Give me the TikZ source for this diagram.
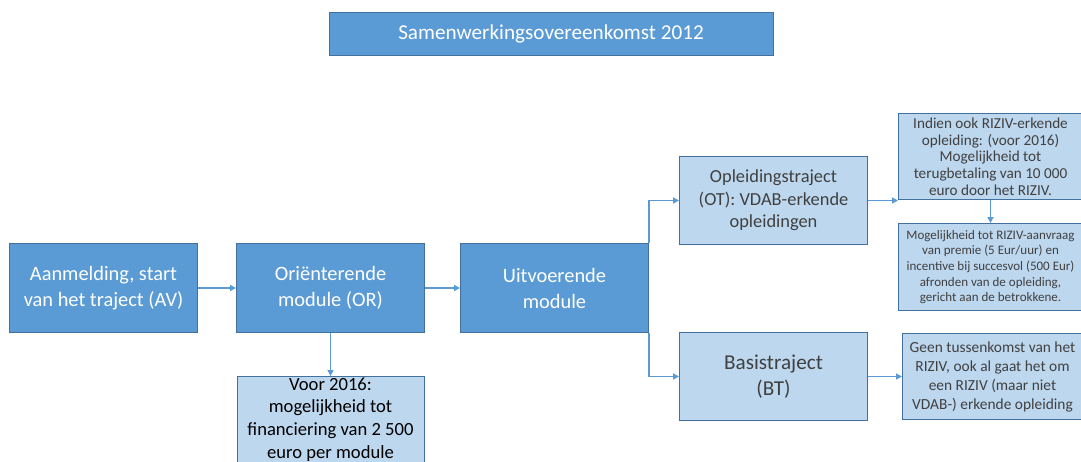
\documentclass[tikz,border=0pt]{standalone}
\usepackage{fontspec}
\setmainfont{Carlito}
\usetikzlibrary{positioning,arrows.meta}
\definecolor{darkblue}{HTML}{5B9BD5}
\definecolor{lightblue}{HTML}{BDD7EE}
\definecolor{boxline}{HTML}{41719C}
\definecolor{greytext}{HTML}{404040}

\begin{document}
\begin{tikzpicture}[x=0.5pt,y=-0.5pt,>={Triangle[length=3pt,width=3pt]},node distance=20pt,
    dark box/.style={draw=boxline,fill=darkblue,text=white,line width=0.5pt,minimum width=94pt,minimum height=44.5pt,inner sep=0pt,align=center,font=\fontsize{10.2}{13}\selectfont},
    light box/.style={draw=boxline,fill=lightblue,text=greytext,line width=0.5pt,inner sep=0pt,align=center},
    link/.style={->,draw=darkblue,line width=0.8pt}]

            \useasboundingbox (0,0) rectangle (1081,461);
            \clip (0,0) rectangle (1081,461);
            \fill[white] (0,0) rectangle (1081,461);

            \node[dark box, minimum width=222pt, minimum height=21.5pt, font=\fontsize{10.6}{13}\selectfont] (title) at (551,33.5) {Samenwerkingsovereenkomst 2012};

            \node[dark box, anchor=north west] (av) at (9,243) {Aanmelding, start\\van het traject (AV)};
            \node[dark box] (or) [right=19pt of av] {Oriënterende\\module (OR)};
            \node[dark box] (uit) [right=17.5pt of or] {Uitvoerende\\module};
            \node[light box, text=black, minimum width=93.5pt, minimum height=43pt, font=\fontsize{9.3}{11.4}\selectfont] (voor) [below=21.5pt of or] {Voor 2016:\\mogelijkheid tot\\financiering van 2 500\\euro per module};

            \node[light box, anchor=north west, minimum width=94pt, minimum height=44pt, font=\fontsize{9.2}{11.2}\selectfont] (ot) at (679,156) {Opleidingstraject\\(OT): VDAB-erkende\\opleidingen};
            \node[light box, anchor=north west, minimum width=94pt, minimum height=44pt, font=\fontsize{10.6}{13}\selectfont] (bt) at (679,332) {Basistraject\\(BT)};

            \node[light box, anchor=north west, minimum width=92pt, minimum height=43pt, font=\fontsize{7.6}{8.35}\selectfont] (indien) at (898,113) {Indien ook RIZIV-erkende\\opleiding: (voor 2016)\\Mogelijkheid tot\\terugbetaling van 10 000\\euro door het RIZIV.};
            \node[light box, minimum width=92pt, minimum height=43.5pt, font=\fontsize{6.5}{7.85}\selectfont] (mog) [below=11.5pt of indien] {Mogelijkheid tot RIZIV-aanvraag\\van premie (5 Eur/uur) en\\incentive bij succesvol (500 Eur)\\afronden van de opleiding,\\gericht aan de betrokkene.};
            \node[light box, anchor=north west, minimum width=90pt, minimum height=43pt, font=\fontsize{7.7}{9.5}\selectfont] (geen) at (902,333) {Geen tussenkomst van het\\RIZIV, ook al gaat het om\\een RIZIV (maar niet\\VDAB-) erkende opleiding};

            \draw[link] (av) -- (or);
            \draw[link] (or) -- (uit);
            \draw[link] (or) -- (voor);
            \draw[link] (uit.north east) |- (ot);
            \draw[link] (uit.south east) |- (bt);
            \draw[link] (ot.east) -- (ot.east -| indien.west);
            \draw[link] (indien) -- (mog);
            \draw[link] (bt) -- (geen);

        \end{tikzpicture}
\end{document}
